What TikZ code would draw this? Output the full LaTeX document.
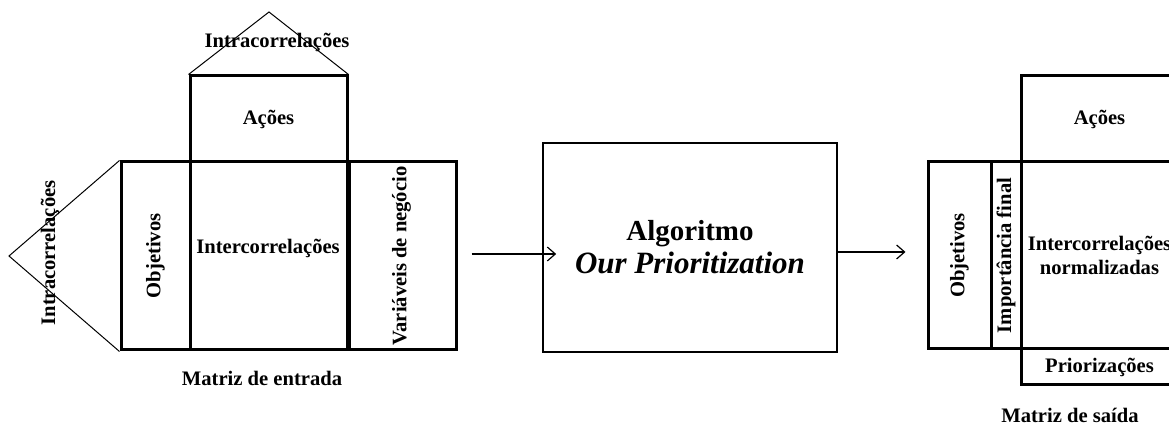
\documentclass[tikz,border=0pt]{standalone}
\usepackage{fontspec}
\setmainfont{Liberation Serif}
\usetikzlibrary{arrows.meta}

\begin{document}
\begin{tikzpicture}[x=0.5pt, y=-0.5pt,
    cell/.style={draw, line width=1.5pt, inner sep=0pt, font=\bfseries\fontsize{10.3}{12.4}\selectfont},
    lbl/.style={font=\bfseries\fontsize{10.3}{12.4}\selectfont, inner sep=0pt},
    arr/.style={-{Straight Barb[length=4pt,width=7pt]}, line width=0.6pt}]
  \clip (0,0) rectangle (1169,426);
  % matriz de entrada
  \node[cell, minimum width=34.5pt, minimum height=94pt] (obj) at (155.5,256) {\rotatebox{90}{Objetivos}};
  \node[cell, minimum width=78.5pt, minimum height=94pt] (inter) at (268.5,256) {};
  \node[cell, minimum width=54.5pt, minimum height=94pt] (var) at (401.5,256) {\rotatebox{90}{Variáveis de negócio}};
  \node[cell, minimum width=78.5pt, minimum height=43pt] (acoes) at (268.5,119) {Ações};
  \draw[line width=2.5pt] (inter.north east) -- (inter.south east);
  \node[lbl] (interTxt) at (268,248) {Intercorrelações};
  \coordinate (tipL) at (9,256);
  \coordinate (tipT) at (269,12);
  \draw[line width=0.5pt] (obj.north west) -- (tipL) -- (obj.south west);
  \draw[line width=0.5pt] (acoes.north west) -- (tipT) -- (acoes.north east);
  \node[lbl, rotate=90] (intraL) at (50,253) {Intracorrelações};
  \node[lbl] (intraT) at (277,42) {Intracorrelações};
  \node[lbl] (entrada) at (262,378) {Matriz de entrada};
  % algoritmo
  \node[draw, line width=0.8pt, minimum width=147pt, minimum height=104.5pt, align=center,
    font=\bfseries\fontsize{14.5}{16.5}\selectfont] (alg) at (690,247.5)
    {Algoritmo\\\fontsize{15.5}{16.5}\selectfont\itshape Our Prioritization};
  % matriz de saida
  \node[cell, minimum width=31.5pt, minimum height=93.5pt] (oObj) at (959.5,255.5) {\rotatebox{90}{Objetivos}};
  \node[cell, minimum width=15pt, minimum height=93.5pt] (oImp) at (1006,255.5) {\rotatebox{90}{Importância final}};
  \node[cell, minimum width=78.5pt, minimum height=93.5pt, align=center] (oInt) at (1099.5,255.5)
    {Intercorrelações\\normalizadas};
  \node[cell, minimum width=78.5pt, minimum height=43pt] (oAco) at (1099.5,119) {Ações};
  \node[cell, minimum width=78.5pt, minimum height=18pt] (oPri) at (1099.5,367) {Priorizações};
  \draw[line width=0.8pt] (oObj.north east) -- (oObj.south east);
  \node[lbl] (saida) at (1070,415) {Matriz de saída};
  % setas
  \draw[arr] ([xshift=7pt,yshift=1pt]var.east) -- ([xshift=7pt,yshift=1pt]var.east -| alg.west);
  \draw[arr] ([yshift=-2.25pt]alg.east) -- ([xshift=-10.5pt,yshift=-2.25pt]oObj.west |- alg.east);
\end{tikzpicture}
\end{document}
